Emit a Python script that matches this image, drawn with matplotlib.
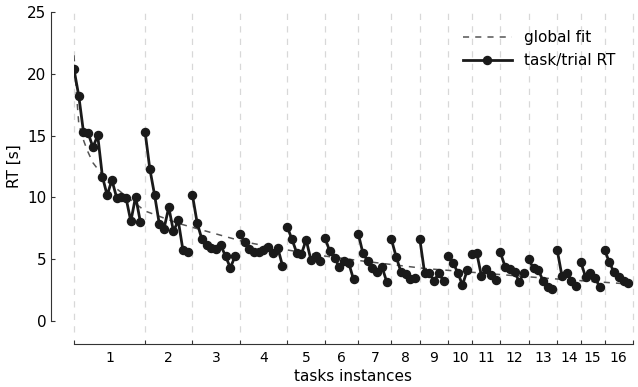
import numpy as np
import matplotlib
matplotlib.use("Agg")
import matplotlib.pyplot as plt

# trials per task instance
task_sizes = [15, 10, 10, 10, 8, 7, 7, 6, 6, 5, 6, 6, 6, 5, 5, 6]
task_labels = [str(i) for i in range(1, 17)]

# response time per trial (s), task after task
rt = [
    20.36, 18.23, 15.29, 15.18, 14.05, 15.02, 11.68, 10.17, 11.41, 9.98, 10.06, 9.92, 8.06, 10.06, 8.04,
    15.32, 12.32, 10.22, 7.87, 7.47, 9.20, 7.25, 8.14, 5.72, 5.58,
    10.19, 7.93, 6.61, 6.12, 5.88, 5.85, 6.12, 5.23, 4.31, 5.23,
    7.01, 6.38, 5.81, 5.55, 5.55, 5.73, 5.98, 5.47, 5.93, 4.49,
    7.63, 6.62, 5.54, 5.40, 6.58, 4.96, 5.26, 4.83,
    6.69, 5.64, 5.12, 4.37, 4.85, 4.69, 3.37,
    7.07, 5.47, 4.85, 4.29, 3.96, 4.40, 3.18,
    6.61, 5.20, 3.99, 3.79, 3.38, 3.45,
    6.62, 3.92, 3.88, 3.24, 3.86, 3.24,
    5.26, 4.73, 3.92, 2.91, 4.10,
    5.39, 5.53, 3.66, 4.18, 3.72, 3.32,
    5.55, 4.40, 4.20, 3.95, 3.18, 3.91,
    4.99, 4.25, 4.15, 3.26, 2.73, 2.55,
    5.74, 3.65, 3.91, 3.22, 2.80,
    4.75, 3.55, 3.86, 3.50, 2.72,
    5.77, 4.75, 3.95, 3.60, 3.20, 3.05,
]

# global fit curve
fit_x = [0, 0.5, 1, 1.75, 2.8, 4, 7, 10, 15, 22, 29, 36, 45, 52, 62, 74, 87, 100, 115, 117]
fit_y = [21.5, 18.5, 16.0, 14.9, 13.8, 12.8, 11.3, 10.4, 8.9, 7.9, 7.15, 6.4, 5.75, 5.3,
         4.8, 4.25, 3.85, 3.45, 3.05, 3.0]

bounds = np.concatenate([[0], np.cumsum(task_sizes)])
centers = (bounds[:-1] + bounds[1:]) / 2
x = np.arange(len(rt))
rt = np.array(rt)

fig = plt.figure(figsize=(6.38, 3.87), dpi=100)
ax = fig.add_axes([74 / 638, 66 / 387, 559 / 638, 309 / 387])

# task boundaries, reaching a bit below zero
ax.vlines(bounds, -0.9, 25, colors="#d8d8d8", lw=0.9, linestyles=(0, (5, 5)),
          clip_on=False, zorder=0)

ax.plot(fit_x, fit_y, color="#555555", lw=1.1, dashes=(4, 4), label="global fit")
for k in range(len(task_sizes)):
    s, e = bounds[k], bounds[k + 1]
    ax.plot(x[s:e], rt[s:e], color="#1a1a1a", lw=2, marker="o", ms=5.8,
            label="task/trial RT" if k == 0 else None)

ax.set_xlim(0, bounds[-1])
ax.set_ylim(0, 25)

ax.set_xticks(bounds)
ax.set_xticklabels([])
ax.set_xticks(centers, minor=True)
ax.set_xticklabels(task_labels, minor=True, fontsize=11)
ax.tick_params(axis="x", which="minor", length=0, pad=5)
ax.tick_params(axis="both", which="major", direction="in", length=3, color="#333333", labelsize=11)
ax.set_yticks([0, 5, 10, 15, 20, 25])

for side in ["top", "right"]:
    ax.spines[side].set_visible(False)
ax.spines["left"].set_position(("outward", 16.5))
ax.spines["bottom"].set_position(("outward", 16.5))
ax.spines["left"].set_bounds(0, 25)
ax.spines["bottom"].set_bounds(0, bounds[-1])
ax.spines["left"].set_color("#333333")
ax.spines["bottom"].set_color("#333333")

ax.set_xlabel("tasks instances", fontsize=11, labelpad=3)
ax.set_ylabel("RT [s]", fontsize=11)

ax.legend(loc="upper right", bbox_to_anchor=(0.993, 0.985), frameon=False,
          fontsize=11, handlelength=3.2)

fig.savefig("out.png", dpi=100)
